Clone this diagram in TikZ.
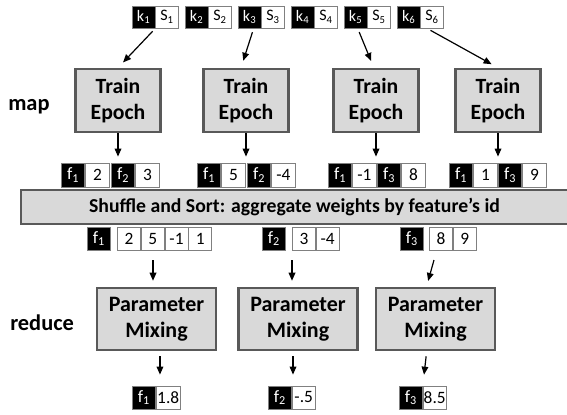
\documentclass[tikz,border=0pt]{standalone}
\usepackage{fontspec}
\setmainfont{Carlito}
\usetikzlibrary{arrows.meta,calc}
\definecolor{boxfill}{HTML}{D9D9D9}
\definecolor{boxline}{HTML}{595959}
\definecolor{cellline}{HTML}{808080}
\begin{document}
\begin{tikzpicture}[x=0.75pt,y=-0.75pt,
  cellb/.style={fill=black, draw=cellline, line width=0.6pt, text=white, inner sep=0pt, anchor=west, font=\fontsize{13}{13}\selectfont},
  cellw/.style={fill=white, draw=cellline, line width=0.6pt, text=black, inner sep=0pt, anchor=west, font=\fontsize{13}{13}\selectfont},
  topcell/.style={minimum width=16.9pt, minimum height=16.5pt, font=\fontsize{12}{12}\selectfont},
  midcell/.style={minimum width=17.6pt, minimum height=18pt},
  botcell/.style={minimum width=17.25pt, minimum height=17.25pt},
  gbox/.style={fill=boxfill, draw=boxline, line width=1.9pt, align=center, inner sep=0pt},
  tebox/.style={gbox, minimum width=63.75pt, minimum height=47.25pt, font=\bfseries\fontsize{16.3}{19}\selectfont},
  pmbox/.style={gbox, minimum width=89.25pt, minimum height=46.5pt, font=\bfseries\fontsize{16.5}{19.5}\selectfont},
  arr/.style={-{Triangle[length=6pt,width=5pt]}, line width=0.9pt},
  side/.style={anchor=base west, inner sep=0pt, font=\bfseries\fontsize{16.8}{16.8}\selectfont}
]
\useasboundingbox (0,0) rectangle (567,414);

% top key/shard pairs
\foreach \i in {1,...,6}{
  \pgfmathsetmacro{\xl}{132+53*(\i-1)}
  \node[cellb, topcell] (k\i) at (\xl,17) {k\textsubscript{\i}};
  \node[cellw, topcell] (s\i) at (k\i.east) {S\textsubscript{\i}};
}

% labels
\node[side] (map) at (8,110) {map};
\node[side] (reduce) at (10,330) {reduce};

% train epoch boxes
\node[tebox] (te1) at (118,100.5) {Train\\Epoch};
\node[tebox] (te2) at (246,100.5) {Train\\Epoch};
\node[tebox] (te3) at (376,100.5) {Train\\Epoch};
\node[tebox] (te4) at (498,100.5) {Train\\Epoch};

\draw[arr, shorten <=3pt, shorten >=5.5pt] (k1.south east) -- (te1.north);
\draw[arr, shorten <=3pt, shorten >=5.5pt] ([xshift=3pt]k3.south) -- ([xshift=-3.75pt]te2.north);
\draw[arr, shorten <=3pt, shorten >=5.5pt] ([xshift=1.5pt]k5.south) -- ([xshift=-1.6pt]te3.north);
\draw[arr, shorten <=3pt, shorten >=5.5pt] ([xshift=-3.75pt]s6.south) -- (te4.north);

% map outputs
\node[cellb, midcell] (m1b) at (61,175) {f\textsubscript{1}};
\node[cellw, midcell] (m1w) at (m1b.east) {2};
\node[cellb, midcell] (m2b) at (111,175) {f\textsubscript{2}};
\node[cellw, midcell] (m2w) at (m2b.east) {3};
\node[cellb, midcell] (m3b) at (197,175) {f\textsubscript{1}};
\node[cellw, midcell] (m3w) at (m3b.east) {5};
\node[cellb, midcell] (m4b) at (247,175) {f\textsubscript{2}};
\node[cellw, midcell] (m4w) at (m4b.east) {-4};
\node[cellb, midcell] (m5b) at (328,175) {f\textsubscript{1}};
\node[cellw, midcell] (m5w) at (m5b.east) {-1};
\node[cellb, midcell] (m6b) at (377,175) {f\textsubscript{3}};
\node[cellw, midcell] (m6w) at (m6b.east) {8};
\node[cellb, midcell] (m7b) at (449,175) {f\textsubscript{1}};
\node[cellw, midcell] (m7w) at (m7b.east) {1};
\node[cellb, midcell] (m8b) at (498,175) {f\textsubscript{3}};
\node[cellw, midcell] (m8w) at (m8b.east) {9};

\draw[arr, shorten >=4.5pt] (te1.south) -- (te1.south |- m2b.north);
\draw[arr, shorten >=4.5pt] (te2.south) -- (te2.south |- m4b.north);
\draw[arr, shorten >=4.5pt] (te3.south) -- (te3.south |- m6b.north);
\draw[arr, shorten >=4.5pt] (te4.south) -- (te4.south |- m8b.north);

% shuffle bar
\node[gbox, minimum width=410.25pt, minimum height=25.5pt, font=\bfseries\fontsize{14.8}{14.8}\selectfont] (bar) at (294.5,207) {Shuffle and Sort: aggregate weights by feature’s id};

% grouped weights
\node[cellb, botcell] (r1f) at (87,238.5) {f\textsubscript{1}};
\node[cellw, botcell] (r1a) at (117,238.5) {2};
\node[cellw, botcell] (r1b) at (r1a.east) {5};
\node[cellw, botcell] (r1c) at (r1b.east) {-1};
\node[cellw, botcell] (r1d) at (r1c.east) {1};
\node[cellb, botcell] (r2f) at (262,238.5) {f\textsubscript{2}};
\node[cellw, botcell] (r2a) at (292,238.5) {3};
\node[cellw, botcell] (r2b) at (r2a.east) {-4};
\node[cellb, botcell] (r3f) at (400,238.5) {f\textsubscript{3}};
\node[cellw, botcell] (r3a) at (429,238.5) {8};
\node[cellw, botcell] (r3b) at (r3a.east) {9};

% parameter mixing
\node[pmbox] (pm1) at (156.5,319) {Parameter\\Mixing};
\node[pmbox] (pm2) at (298,319) {Parameter\\Mixing};
\node[pmbox] (pm3) at (435.5,319) {Parameter\\Mixing};

\coordinate (c1) at (153,260);
\coordinate (c2) at (292,260);
\coordinate (c3) at (434,260);
\draw[arr, shorten >=4.5pt] (c1) -- (c1 |- pm1.north);
\draw[arr, shorten >=4.5pt] (c2) -- (c2 |- pm2.north);
\draw[arr, shorten >=4.5pt] (c3) -- ([xshift=-6.75pt]pm3.north);

% results
\node[cellb, botcell] (o1b) at (132,397.5) {f\textsubscript{1}};
\node[cellw, botcell, minimum width=18pt] (o1w) at (o1b.east) {1.8};
\node[cellb, botcell] (o2b) at (268,397.5) {f\textsubscript{2}};
\node[cellw, botcell] (o2w) at (o2b.east) {-.5};
\node[cellb, botcell] (o3b) at (399,397.5) {f\textsubscript{3}};
\node[cellw, botcell] (o3w) at (o3b.east) {8.5};

\draw[arr, shorten <=3.75pt, shorten >=8.25pt] ([xshift=2.6pt]pm1.south) -- ([xshift=2.6pt]pm1.south |- o1b.north);
\draw[arr, shorten <=3.75pt, shorten >=8.25pt] ([xshift=-3.75pt]pm2.south) -- ([xshift=-3.75pt]pm2.south |- o2b.north);
\draw[arr, shorten <=3.75pt, shorten >=8.25pt] ([xshift=-6.6pt]pm3.south) -- (o3b.north east);
\end{tikzpicture}
\end{document}
